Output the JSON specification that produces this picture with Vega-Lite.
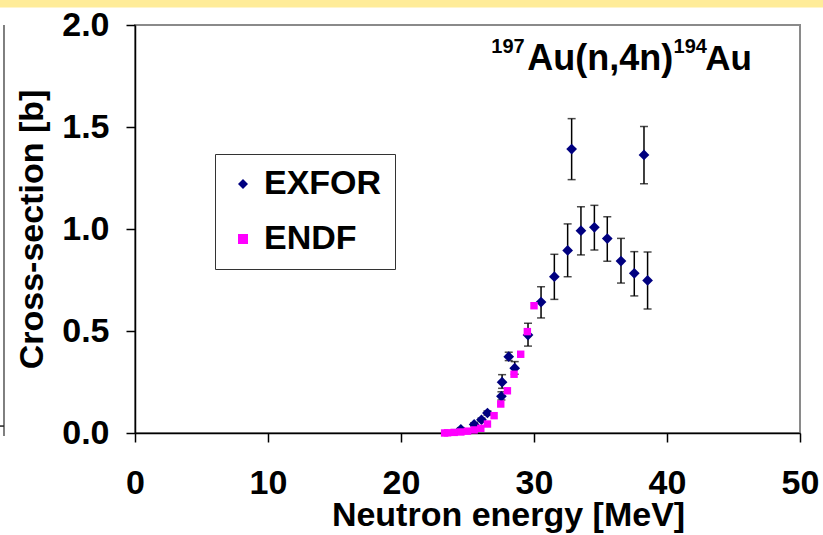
{
  "$schema": "https://vega.github.io/schema/vega-lite/v6.json",
  "width": 665,
  "height": 408,
  "autosize": {"type": "none"},
  "padding": {"left": 135, "top": 25, "right": 23, "bottom": 102},
  "background": "white",
  "config": {
    "font": "Liberation Sans",
    "view": {"stroke": "#8a8a8a", "strokeWidth": 2},
    "axis": {
      "labelFont": "Liberation Sans", "labelFontWeight": "bold", "labelFontSize": 34, "labelColor": "black",
      "titleFont": "Liberation Sans", "titleFontWeight": "bold", "titleFontSize": 34, "titleColor": "black",
      "grid": false, "domainColor": "black", "tickColor": "black", "domainWidth": 1.5, "tickWidth": 1.5, "tickSize": 9
    },
    "legend": {
      "orient": "none", "legendX": 80, "legendY": 129, "title": null,
      "strokeColor": "#333333", "fillColor": "white", "padding": 13,
      "labelFont": "Liberation Sans", "labelFontSize": 34, "labelFontWeight": "bold", "labelColor": "black",
      "rowPadding": 21, "symbolOffset": -2, "labelOffset": 4, "symbolStrokeWidth": 0
    }
  },
  "datasets": {
    "exfor": [
      {"src": "EXFOR", "e": 24.5, "xs": 0.018, "lo": 0.010, "hi": 0.026},
      {"src": "EXFOR", "e": 25.5, "xs": 0.042, "lo": 0.034, "hi": 0.050},
      {"src": "EXFOR", "e": 26.05, "xs": 0.065, "lo": 0.057, "hi": 0.073},
      {"src": "EXFOR", "e": 26.5, "xs": 0.098, "lo": 0.088, "hi": 0.108},
      {"src": "EXFOR", "e": 27.55, "xs": 0.180, "lo": 0.162, "hi": 0.202},
      {"src": "EXFOR", "e": 27.6, "xs": 0.249, "lo": 0.219, "hi": 0.286},
      {"src": "EXFOR", "e": 28.1, "xs": 0.374, "lo": 0.355, "hi": 0.396},
      {"src": "EXFOR", "e": 28.55, "xs": 0.318, "lo": 0.288, "hi": 0.350},
      {"src": "EXFOR", "e": 29.55, "xs": 0.480, "lo": 0.426, "hi": 0.538},
      {"src": "EXFOR", "e": 30.53, "xs": 0.642, "lo": 0.564, "hi": 0.717},
      {"src": "EXFOR", "e": 31.53, "xs": 0.766, "lo": 0.655, "hi": 0.876},
      {"src": "EXFOR", "e": 32.53, "xs": 0.895, "lo": 0.766, "hi": 1.025},
      {"src": "EXFOR", "e": 32.83, "xs": 1.392, "lo": 1.242, "hi": 1.541},
      {"src": "EXFOR", "e": 33.53, "xs": 0.992, "lo": 0.873, "hi": 1.109},
      {"src": "EXFOR", "e": 34.54, "xs": 1.008, "lo": 0.897, "hi": 1.116},
      {"src": "EXFOR", "e": 35.51, "xs": 0.953, "lo": 0.842, "hi": 1.060},
      {"src": "EXFOR", "e": 36.54, "xs": 0.843, "lo": 0.735, "hi": 0.954},
      {"src": "EXFOR", "e": 37.54, "xs": 0.783, "lo": 0.672, "hi": 0.889},
      {"src": "EXFOR", "e": 38.27, "xs": 1.363, "lo": 1.222, "hi": 1.503},
      {"src": "EXFOR", "e": 38.54, "xs": 0.748, "lo": 0.608, "hi": 0.887}
    ],
    "endf": [
      {"src": "ENDF", "e": 23.28, "xs": 0.000},
      {"src": "ENDF", "e": 23.5, "xs": 0.001},
      {"src": "ENDF", "e": 24.0, "xs": 0.003},
      {"src": "ENDF", "e": 24.5, "xs": 0.005},
      {"src": "ENDF", "e": 25.0, "xs": 0.009},
      {"src": "ENDF", "e": 25.5, "xs": 0.015},
      {"src": "ENDF", "e": 26.0, "xs": 0.023},
      {"src": "ENDF", "e": 26.5, "xs": 0.044},
      {"src": "ENDF", "e": 27.0, "xs": 0.085},
      {"src": "ENDF", "e": 27.5, "xs": 0.142},
      {"src": "ENDF", "e": 28.0, "xs": 0.207},
      {"src": "ENDF", "e": 28.5, "xs": 0.288},
      {"src": "ENDF", "e": 29.0, "xs": 0.386},
      {"src": "ENDF", "e": 29.5, "xs": 0.497},
      {"src": "ENDF", "e": 30.0, "xs": 0.624}
    ],
    "label": [
      {"big1": "Au(n,4n)", "big2": "Au", "sup1": "197", "sup2": "194"}
    ]
  },
  "layer": [
    {
      "data": {"name": "exfor"},
      "mark": {"type": "rule", "color": "black", "strokeWidth": 1.5, "clip": false},
      "encoding": {
        "x": {"field": "e", "type": "quantitative", "scale": {"domain": [0, 50], "nice": false, "zero": false},
              "title": "Neutron energy [MeV]",
              "axis": {"values": [0, 10, 20, 30, 40, 50], "labelPadding": 24, "titlePadding": -2, "titleX": 373, "labelFlush": false}},
        "y": {"field": "lo", "type": "quantitative", "scale": {"domain": [0, 2], "nice": false},
              "title": "Cross-section [b]",
              "axis": {"values": [0, 0.5, 1, 1.5, 2], "format": ".1f", "labelPadding": 17, "titlePadding": 12, "labelFlush": false}},
        "y2": {"field": "hi"}
      }
    },
    {
      "data": {"name": "exfor"},
      "mark": {"type": "tick", "orient": "horizontal", "color": "black", "thickness": 1.5, "size": 8, "clip": false},
      "encoding": {
        "x": {"field": "e", "type": "quantitative", "title": "Neutron energy [MeV]"},
        "y": {"field": "lo", "type": "quantitative", "title": "Cross-section [b]"}
      }
    },
    {
      "data": {"name": "exfor"},
      "mark": {"type": "tick", "orient": "horizontal", "color": "black", "thickness": 1.5, "size": 8, "clip": false},
      "encoding": {
        "x": {"field": "e", "type": "quantitative", "title": "Neutron energy [MeV]"},
        "y": {"field": "hi", "type": "quantitative", "title": "Cross-section [b]"}
      }
    },
    {
      "data": {"name": "exfor"},
      "mark": {"type": "point", "filled": true, "opacity": 1, "size": 115, "clip": false},
      "encoding": {
        "x": {"field": "e", "type": "quantitative", "title": "Neutron energy [MeV]"},
        "y": {"field": "xs", "type": "quantitative", "title": "Cross-section [b]"},
        "color": {"field": "src", "type": "nominal", "scale": {"domain": ["EXFOR", "ENDF"], "range": ["#000080", "#FF00FF"]}},
        "shape": {"field": "src", "type": "nominal", "scale": {"domain": ["EXFOR", "ENDF"], "range": ["diamond", "square"]}}
      }
    },
    {
      "data": {"name": "endf"},
      "mark": {"type": "point", "filled": true, "opacity": 1, "size": 55, "clip": false},
      "encoding": {
        "x": {"field": "e", "type": "quantitative", "title": "Neutron energy [MeV]"},
        "y": {"field": "xs", "type": "quantitative", "title": "Cross-section [b]"},
        "color": {"field": "src", "type": "nominal"},
        "shape": {"field": "src", "type": "nominal"}
      }
    },
    {
      "data": {"name": "label"},
      "mark": {"type": "text", "align": "right", "baseline": "alphabetic", "font": "Liberation Sans", "fontWeight": "bold", "fontSize": 35, "color": "black"},
      "encoding": {
        "x": {"datum": 46.39, "type": "quantitative", "title": "Neutron energy [MeV]"},
        "y": {"datum": 1.779, "type": "quantitative", "title": "Cross-section [b]"},
        "text": {"field": "big2"}
      }
    },
    {
      "data": {"name": "label"},
      "mark": {"type": "text", "align": "left", "baseline": "alphabetic", "font": "Liberation Sans", "fontWeight": "bold", "fontSize": 36, "color": "black"},
      "encoding": {
        "x": {"datum": 29.5, "type": "quantitative", "title": "Neutron energy [MeV]"},
        "y": {"datum": 1.779, "type": "quantitative", "title": "Cross-section [b]"},
        "text": {"field": "big1"}
      }
    },
    {
      "data": {"name": "label"},
      "mark": {"type": "text", "align": "right", "baseline": "alphabetic", "font": "Liberation Sans", "fontWeight": "bold", "fontSize": 20, "color": "black"},
      "encoding": {
        "x": {"datum": 43.0, "type": "quantitative", "title": "Neutron energy [MeV]"},
        "y": {"datum": 1.865, "type": "quantitative", "title": "Cross-section [b]"},
        "text": {"field": "sup2"}
      }
    },
    {
      "data": {"name": "label"},
      "mark": {"type": "text", "align": "right", "baseline": "alphabetic", "font": "Liberation Sans", "fontWeight": "bold", "fontSize": 20, "color": "black"},
      "encoding": {
        "x": {"datum": 29.3, "type": "quantitative", "title": "Neutron energy [MeV]"},
        "y": {"datum": 1.865, "type": "quantitative", "title": "Cross-section [b]"},
        "text": {"field": "sup1"}
      }
    },
    {
      "data": {"name": "label"},
      "mark": {"type": "rect", "color": "#FFEC99", "clip": false},
      "encoding": {
        "x": {"datum": -11, "type": "quantitative", "title": "Neutron energy [MeV]"},
        "x2": {"datum": 52},
        "y": {"datum": 2.086, "type": "quantitative", "title": "Cross-section [b]"},
        "y2": {"datum": 2.3}
      }
    },
    {
      "data": {"name": "label"},
      "mark": {"type": "rule", "color": "#555555", "strokeWidth": 1.5, "clip": false},
      "encoding": {
        "x": {"datum": -9.85, "type": "quantitative", "title": "Neutron energy [MeV]"},
        "y": {"datum": 2.0, "type": "quantitative", "title": "Cross-section [b]"},
        "y2": {"datum": -0.015}
      }
    },
    {
      "data": {"name": "label"},
      "mark": {"type": "rule", "color": "#222222", "strokeWidth": 1.5, "clip": false},
      "encoding": {
        "x": {"datum": -10.3, "type": "quantitative", "title": "Neutron energy [MeV]"},
        "x2": {"datum": -9.85},
        "y": {"datum": 0.034, "type": "quantitative", "title": "Cross-section [b]"}
      }
    }
  ]
}
